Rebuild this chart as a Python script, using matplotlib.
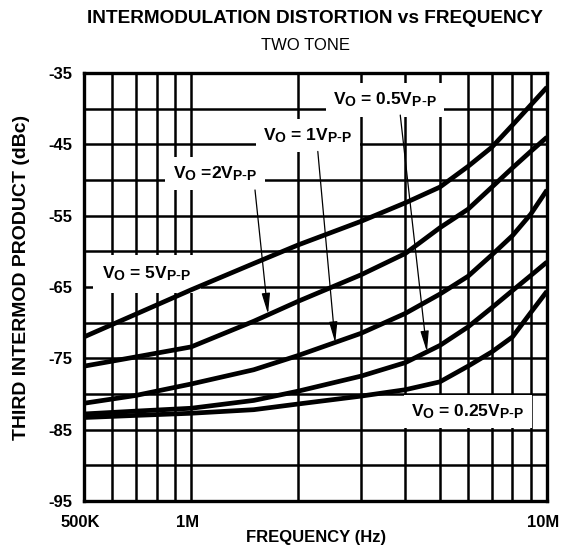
import numpy as np
import matplotlib
matplotlib.use('Agg')
import matplotlib.pyplot as plt
import matplotlib.transforms as mtransforms
import matplotlib._mathtext as mathtext_internal
from matplotlib.ticker import FixedLocator, NullFormatter

plt.rcParams['font.family'] = ['Liberation Sans', 'DejaVu Sans']
plt.rcParams['mathtext.default'] = 'regular'
# the datasheet subscripts are only a bit smaller than the main text
mathtext_internal.SHRINK_FACTOR = 0.8

# frequency in Hz, IMD in dBc
freq = np.array([0.5, 0.7, 1, 1.5, 2, 3, 4, 5, 6, 7, 8, 9, 10]) * 1e6
vo_5 = [-72.0, -68.8, -65.4, -61.7, -59.1, -55.8, -53.2, -51.0, -48.1, -45.4, -42.3, -39.5, -37.0]
vo_2 = [-76.1, -74.8, -73.4, -69.8, -67.0, -63.3, -60.3, -56.7, -54.1, -51.0, -48.3, -46.0, -44.0]
vo_1 = [-81.3, -80.2, -78.6, -76.6, -74.6, -71.5, -68.7, -66.0, -63.5, -60.5, -57.8, -54.8, -51.4]
vo_05 = [-82.8, -82.4, -82.0, -80.9, -79.6, -77.5, -75.6, -73.2, -70.6, -67.9, -65.5, -63.4, -61.5]
vo_025 = [-83.3, -83.0, -82.7, -82.2, -81.4, -80.3, -79.4, -78.3, -76.1, -74.1, -72.0, -68.6, -65.6]

xticks = [5e5, 1e6, 1e7]
xtick_labels = ['500K', '1M', '10M']
yticks = [-35, -45, -55, -65, -75, -85, -95]

fig = plt.figure(figsize=(5.61, 5.5), dpi=100)
ax = fig.add_axes([0.1497, 0.0891, 0.8253, 0.7782])

for vals in [vo_5, vo_2, vo_1, vo_05, vo_025]:
    ax.plot(freq, vals, color='black', lw=3.4, zorder=3, solid_capstyle='butt')

ax.set_xscale('log')
ax.set_xlim(5e5, 1e7)
ax.set_ylim(-95, -35)
ax.xaxis.set_major_locator(FixedLocator(xticks))
ax.xaxis.set_minor_locator(FixedLocator([6e5, 7e5, 8e5, 9e5] + [k * 1e6 for k in range(2, 10)]))
ax.xaxis.set_minor_formatter(NullFormatter())
ax.set_xticklabels(xtick_labels, fontweight='bold', fontsize=12)
ax.yaxis.set_major_locator(FixedLocator(yticks))
ax.yaxis.set_minor_locator(FixedLocator([-40, -50, -60, -70, -80, -90]))
ax.set_yticklabels([str(v) for v in yticks], fontweight='bold', fontsize=12)
ax.tick_params(which='both', length=0)
ax.tick_params(axis='y', pad=8)
ax.tick_params(axis='x', pad=10)
ax.grid(which='both', color='black', lw=1.8)
for s in ax.spines.values():
    s.set_linewidth(2.4)
    s.set_zorder(4)

# x tick labels sit a little left of their grid lines in the original
shift = mtransforms.ScaledTranslation(-0.04, 0, fig.dpi_scale_trans)
for lbl in ax.get_xticklabels():
    lbl.set_transform(lbl.get_transform() + shift)

fig.text(0.563, 0.022, 'FREQUENCY (Hz)', ha='center', va='center', fontweight='bold', fontsize=12)
fig.text(0.038, 0.496, 'THIRD INTERMOD PRODUCT (dBc)', ha='center', va='center',
         rotation=90, fontweight='bold', fontsize=14)

fig.text(0.561, 0.967, 'INTERMODULATION DISTORTION vs FREQUENCY', ha='center', va='center',
         fontweight='bold', fontsize=13.7)
fig.text(0.544, 0.918, 'TWO TONE', ha='center', va='center', fontsize=12)

box = dict(facecolor='white', edgecolor='none', boxstyle='square,pad=0.42')
lab_kw = dict(ha='center', va='center', fontweight='bold', fontsize=12.5, bbox=box, zorder=2)
ax.text(3.5e6, -38.8, r'V$_{O}$ = 0.5V$_{P\text{-}P}$', **lab_kw)
ax.text(2.13e6, -43.8, r'V$_{O}$ = 1V$_{P\text{-}P}$', **lab_kw)
ax.text(1.167e6, -49.1, r'V$_{O}$ =2V$_{P\text{-}P}$', **lab_kw)
ax.text(6.0e6, -82.5, r'V$_{O}$ = 0.25V$_{P\text{-}P}$', **lab_kw)
lab5_kw = dict(lab_kw, bbox=dict(box, boxstyle='square,pad=0.55'))
ax.text(0.752e6, -63.2, r'V$_{O}$ = 5V$_{P\text{-}P}$', **lab5_kw)

arrow = dict(arrowstyle='-|>,head_length=0.9,head_width=0.18', color='black', lw=0.9,
             shrinkA=0, shrinkB=0, mutation_scale=14)
ax.annotate('', xy=(1.645e6, -68.8), xytext=(1.512e6, -51.4), arrowprops=arrow, zorder=5)
ax.annotate('', xy=(2.54e6, -72.8), xytext=(2.27e6, -46.0), arrowprops=arrow, zorder=5)
ax.annotate('', xy=(4.6e6, -74.1), xytext=(3.87e6, -40.9), arrowprops=arrow, zorder=5)

fig.savefig('out.png', dpi=100)
